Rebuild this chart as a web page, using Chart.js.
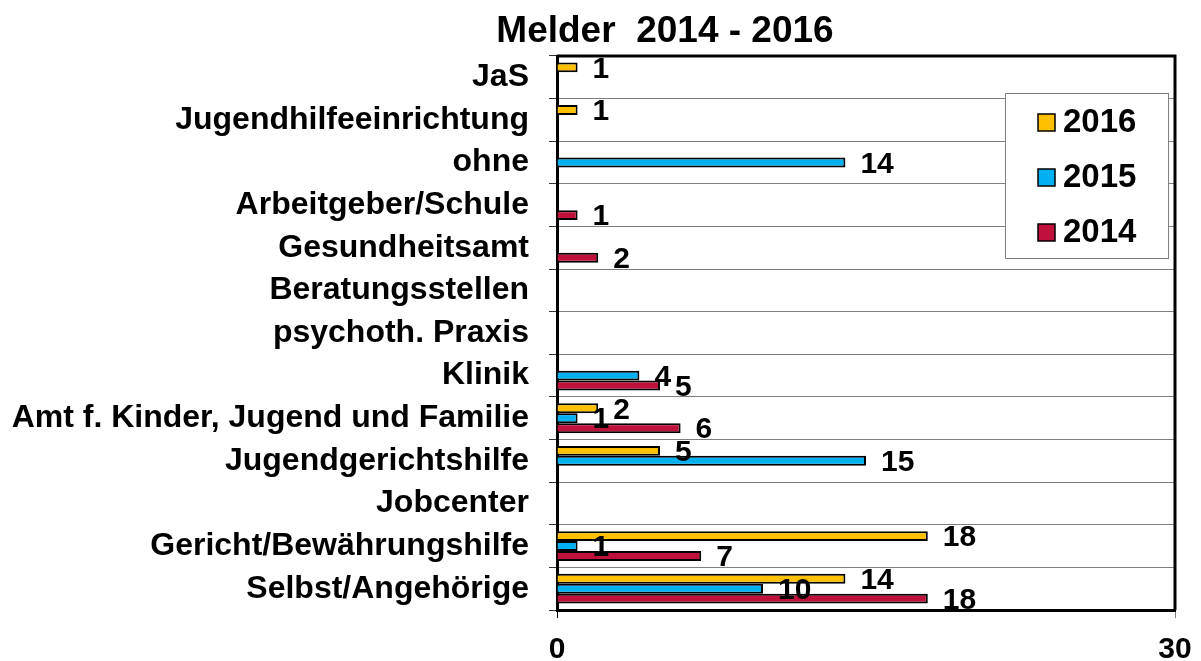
<!DOCTYPE html>
<html>
<head>
<meta charset="utf-8">
<script src="https://cdn.jsdelivr.net/npm/chart.js@4"></script>
<style>
html, body { margin: 0; padding: 0; background: #fff; }
#wrap { width: 1201px; height: 661px; }
</style>
</head>
<body>
<div id="wrap"><canvas id="chart" width="1201" height="661"></canvas></div>
<script>
// data
var categories = [
    "JaS",
    "Jugendhilfeeinrichtung",
    "ohne",
    "Arbeitgeber/Schule",
    "Gesundheitsamt",
    "Beratungsstellen",
    "psychoth. Praxis",
    "Klinik",
    "Amt f. Kinder, Jugend und Familie",
    "Jugendgerichtshilfe",
    "Jobcenter",
    "Gericht/Bewährungshilfe",
    "Selbst/Angehörige"
];
var values2016 = [1, 1, null, null, null, null, null, null, 2, 5, null, 18, 14];
var values2015 = [null, null, 14, null, null, null, null, 4, 1, 15, null, 1, 10];
var values2014 = [null, null, null, 1, 2, null, null, 5, 6, null, null, 7, 18];
var seriesNames = ["2016", "2015", "2014"];
var xTicks = [0, 30];
var titleText = "Melder  2014 - 2016";

var FONT = '"Liberation Sans", Arial, sans-serif';
var colors = ["#FFC000", "#00B0F0", "#C0103C"];

var valueLabels = {
    id: "valueLabels",
    afterDatasetsDraw(chart) {
        var ctx = chart.ctx;
        ctx.save();
        ctx.font = "bold 30px " + FONT;
        ctx.fillStyle = "#000";
        ctx.textAlign = "left";
        ctx.textBaseline = "middle";
        chart.data.datasets.forEach(function(ds, i) {
            var meta = chart.getDatasetMeta(i);
            meta.data.forEach(function(bar, j) {
                var v = ds.data[j];
                if (v === null || v === undefined) return;
                ctx.fillText(String(v), bar.x + 15, bar.y + 2);
            });
        });
        ctx.restore();
    }
};

var frameAndLegend = {
    id: "frameAndLegend",
    afterDraw(chart) {
        var ctx = chart.ctx;
        var area = chart.chartArea;
        ctx.save();

        // top + right border of the plot
        ctx.strokeStyle = "#000";
        ctx.lineWidth = 3;
        ctx.beginPath();
        ctx.moveTo(area.left, area.top);
        ctx.lineTo(area.right, area.top);
        ctx.lineTo(area.right, area.bottom);
        ctx.stroke();

        // title
        ctx.font = "bold 37px " + FONT;
        ctx.fillStyle = "#000";
        ctx.textAlign = "center";
        ctx.textBaseline = "alphabetic";
        ctx.fillText(titleText, 665, 42);

        // legend box inside the plot
        var lx = 1005, ly = 93, lw = 163, lh = 165;
        ctx.fillStyle = "#fff";
        ctx.fillRect(lx, ly, lw, lh);
        ctx.strokeStyle = "#808080";
        ctx.lineWidth = 1;
        ctx.strokeRect(lx + 0.5, ly + 0.5, lw, lh);

        ctx.font = "bold 33px " + FONT;
        ctx.textAlign = "left";
        ctx.textBaseline = "middle";
        chart.data.datasets.forEach(function(ds, i) {
            var cy = 122 + i * 55;
            ctx.fillStyle = ds.backgroundColor;
            ctx.fillRect(1038, cy - 8, 17, 17);
            ctx.strokeStyle = "#000";
            ctx.lineWidth = 1.5;
            ctx.strokeRect(1038, cy - 8, 17, 17);
            ctx.fillStyle = "#000";
            ctx.fillText(ds.label, 1063, cy + 1);
        });
        ctx.restore();
    }
};

var datasets = [values2016, values2015, values2014].map(function(vals, i) {
    return {
        label: seriesNames[i],
        data: vals,
        backgroundColor: colors[i],
        borderColor: "#000",
        borderWidth: 2,
        barPercentage: 1,
        categoryPercentage: 0.7
    };
});

var chart = new Chart(document.getElementById("chart"), {
    type: "bar",
    data: { labels: categories, datasets: datasets },
    options: {
        indexAxis: "y",
        responsive: false,
        animation: false,
        layout: { padding: { top: 56, right: 26, left: 0, bottom: 0 } },
        plugins: {
            legend: { display: false },
            title: { display: false },
            tooltip: { enabled: false }
        },
        scales: {
            y: {
                afterFit(scale) { scale.width = 557; },
                grid: {
                    offset: true,
                    color: "#808080",
                    lineWidth: 1,
                    tickColor: "#333",
                    tickLength: 8
                },
                border: { display: true, color: "#000", width: 3 },
                ticks: {
                    color: "#000",
                    padding: 20,
                    font: { family: FONT, size: 32, weight: "bold" }
                }
            },
            x: {
                min: 0,
                max: 30,
                afterFit(scale) {
                    scale.height = 51;
                    scale.paddingLeft = 0;
                    scale.paddingRight = 0;
                },
                afterBuildTicks(scale) {
                    scale.ticks = xTicks.map(function(v) { return { value: v }; });
                },
                grid: {
                    drawOnChartArea: false,
                    tickLength: 8,
                    color: function(c) { return c.index === 0 ? "#000" : "#808080"; }
                },
                border: { display: true, color: "#000", width: 3 },
                ticks: {
                    color: "#000",
                    padding: 14,
                    font: { family: FONT, size: 30, weight: "bold" }
                }
            }
        }
    },
    plugins: [valueLabels, frameAndLegend]
});
</script>
</body>
</html>
